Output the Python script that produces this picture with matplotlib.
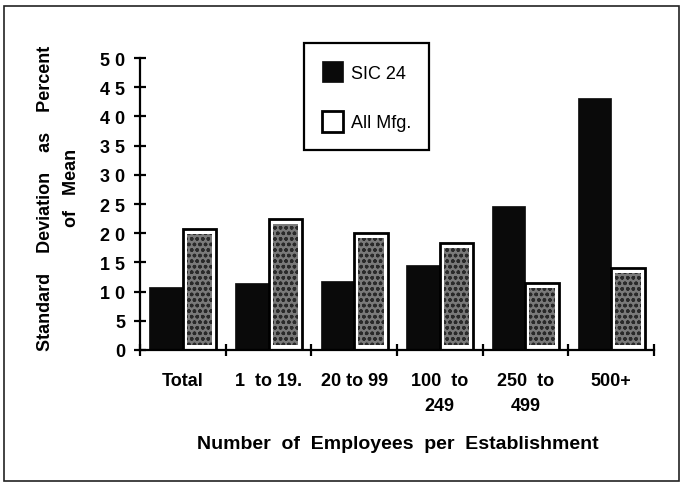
import matplotlib
matplotlib.use("Agg")
import matplotlib.pyplot as plt
from matplotlib.patches import Rectangle
import numpy as np

# data
categories = ["Total", "1  to 19.", "20 to 99", "100  to\n249", "250  to\n499", "500+"]
sic24 = [10.8, 11.4, 11.8, 14.5, 24.6, 43.1]
all_mfg = [20.8, 22.4, 20.0, 18.4, 11.5, 14.0]
yticks = [0, 5, 10, 15, 20, 25, 30, 35, 40, 45, 50]

plt.rcParams['font.family'] = ['Liberation Sans', 'DejaVu Sans']

fig = plt.figure(figsize=(6.83, 4.85), dpi=100)
ax = fig.add_axes([0.205, 0.2763, 0.7525, 0.602])

x = np.arange(len(categories))
w = 0.39

# solid black bars
b1 = ax.bar(x + 0.305, sic24, w, color='#0a0a0a', edgecolor='#0a0a0a', linewidth=0.5, label='SIC 24')

# outlined bars with a stippled grey core
b2 = ax.bar(x + 0.695, all_mfg, w, facecolor='white', edgecolor='black', linewidth=2.0, label='All Mfg.')
core = np.array(all_mfg) - 1.8
ax.bar(x + 0.695, core, w * 0.76, bottom=0.9, facecolor='#7a7a7a', edgecolor='#2a2a2a',
       hatch='ooo', linewidth=0)

ax.set_xlim(0, 6)
ax.set_ylim(0, 50)

for s in ['top', 'right']:
    ax.spines[s].set_visible(False)
for s in ['left', 'bottom']:
    ax.spines[s].set_linewidth(1.6)

ax.set_yticks(yticks)
ax.set_yticklabels([' '.join(str(v)) for v in yticks], fontsize=13, fontweight='bold')
ax.tick_params(axis='y', direction='inout', length=9, width=1.6, pad=6)

ax.set_xticks(np.arange(0, 7))
ax.set_xticklabels([])
ax.set_xticks(x + 0.5, minor=True)
ax.set_xticklabels(categories, minor=True, fontsize=13, fontweight='bold', linespacing=1.6,
                   va='top')
ax.tick_params(axis='x', which='major', direction='inout', length=9, width=1.6)
ax.tick_params(axis='x', which='minor', length=0, pad=16)

# axis titles
fig.text(0.066, 0.59, "Standard    Deviation    as    Percent", rotation=90,
         ha='center', va='center', fontsize=13, fontweight='bold')
fig.text(0.104, 0.612, "of   Mean", rotation=90, ha='center', va='center',
         fontsize=13, fontweight='bold')
fig.text(0.583, 0.0825, "Number  of  Employees  per  Establishment", ha='center',
         va='center', fontsize=14, fontweight='bold')

leg = ax.legend(handles=[b1, b2], loc='upper left', bbox_to_anchor=(0.445, 0.909),
                bbox_transform=fig.transFigure, fontsize=13, handlelength=1.15,
                handleheight=1.4, labelspacing=1.6, borderpad=1.0, handletextpad=0.45,
                borderaxespad=0, fancybox=False, edgecolor='black', framealpha=1)
leg.get_frame().set_linewidth(1.6)

# outer frame of the figure
fig.add_artist(Rectangle((0.006, 0.006), 0.988, 0.979, transform=fig.transFigure,
                         fill=False, edgecolor='#222222', linewidth=1.2))

fig.savefig('out.png', dpi=100)
